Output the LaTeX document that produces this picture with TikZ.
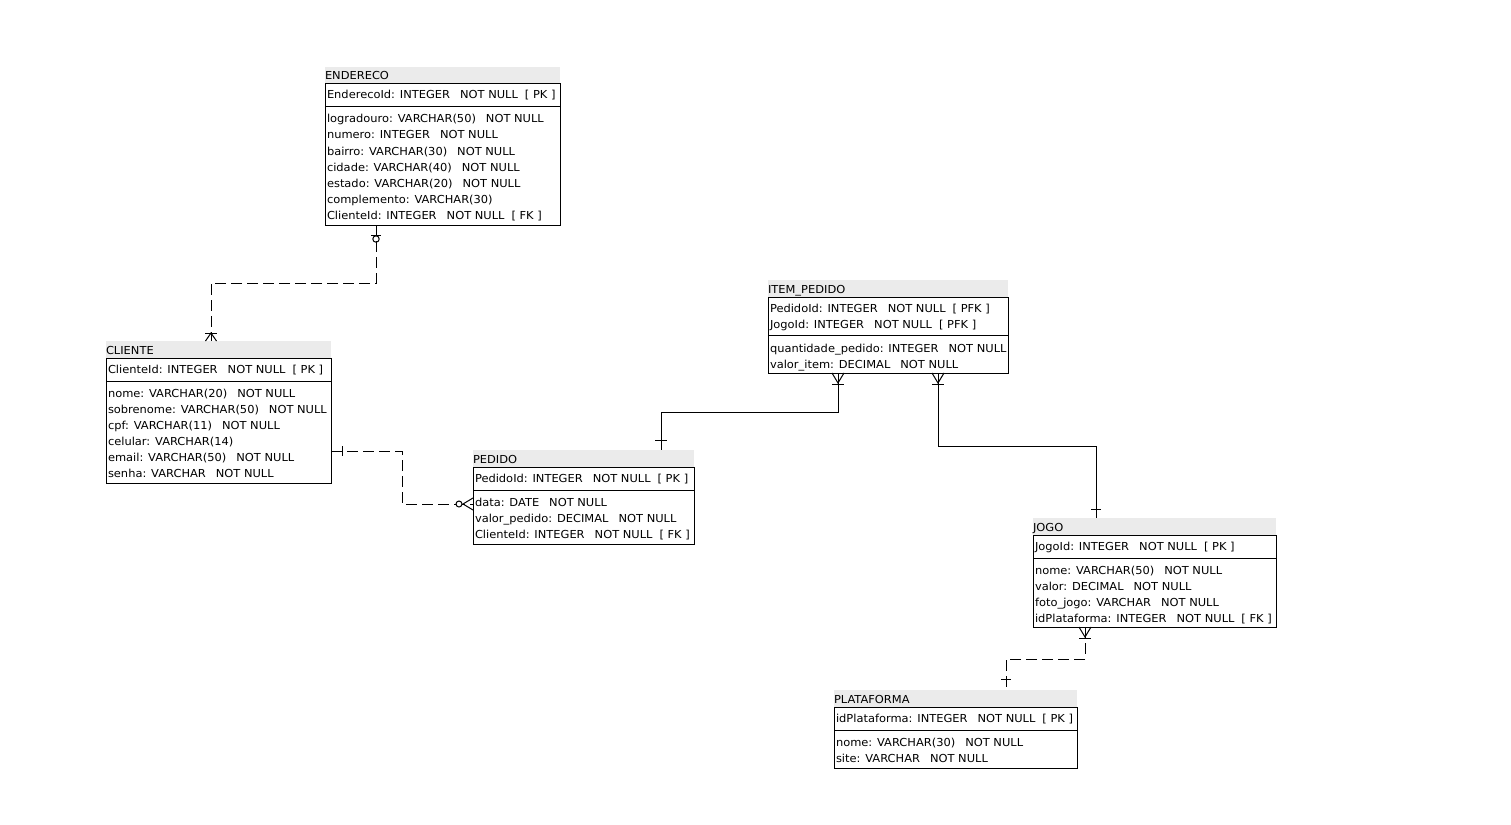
\documentclass[tikz,border=0pt]{standalone}
\usepackage{fontspec}
\newfontfamily\erfont[FakeStretch=1.04]{DejaVu Sans}
\definecolor{bandgray}{HTML}{EBEBEB}
\newcommand{\gq}{\hspace{10pt}}
\newcommand{\gk}{\hspace{7pt}}
\tikzset{
  entbox/.style={draw=black, line width=1pt, anchor=north west, inner sep=0pt, outer sep=0pt},
  entband/.style={fill=bandgray, anchor=north west, inner sep=0pt, outer sep=0pt, minimum height=17pt},
  txt/.style={anchor=base west, inner sep=0pt, outer sep=0pt, font=\erfont\fontsize{11}{12}\selectfont},
  sepline/.style={line width=1pt},
  rel/.style={line width=1pt},
  reldash/.style={line width=1pt, dash pattern=on 11pt off 5pt},
  sym/.style={line width=1pt}
}
\begin{document}
\begin{tikzpicture}[x=1pt,y=-1pt]
\useasboundingbox (0,0) rectangle (1511,824);
\fill[white] (0,0) rectangle (1511,824);

% ---------------- ENDERECO ----------------
\node[entband, minimum width=235pt] (enderecoh) at (325,67) {};
\node[entbox, minimum width=235pt, minimum height=141pt] (endereco) at (325,84) {};
\node[txt] (enderecot) at (325,80) {ENDERECO};
\node[txt] (en0) at (327,99) {EnderecoId: INTEGER\gq NOT NULL\gk[ PK ]};
\draw[sepline] (endereco.west |- 0,107) -- (endereco.east |- 0,107);
\node[txt] (en1) at (327,123) {logradouro: VARCHAR(50)\gq NOT NULL};
\node[txt] (en2) at (327,139) {numero: INTEGER\gq NOT NULL};
\node[txt] (en3) at (327,155) {bairro: VARCHAR(30)\gq NOT NULL};
\node[txt] (en4) at (327,171) {cidade: VARCHAR(40)\gq NOT NULL};
\node[txt] (en5) at (327,187) {estado: VARCHAR(20)\gq NOT NULL};
\node[txt] (en6) at (327,203) {complemento: VARCHAR(30)};
\node[txt] (en7) at (327,219) {ClienteId: INTEGER\gq NOT NULL\gk[ FK ]};

% ---------------- CLIENTE ----------------
\node[entband, minimum width=225pt] (clienteh) at (106,341) {};
\node[entbox, minimum width=225pt, minimum height=125pt] (cliente) at (106,358) {};
\node[txt] (clientet) at (106,354) {CLIENTE};
\node[txt] (cl0) at (108,373) {ClienteId: INTEGER\gq NOT NULL\gk[ PK ]};
\draw[sepline] (cliente.west |- 0,381) -- (cliente.east |- 0,381);
\node[txt] (cl1) at (108,397) {nome: VARCHAR(20)\gq NOT NULL};
\node[txt] (cl2) at (108,413) {sobrenome: VARCHAR(50)\gq NOT NULL};
\node[txt] (cl3) at (108,429) {cpf: VARCHAR(11)\gq NOT NULL};
\node[txt] (cl4) at (108,445) {celular: VARCHAR(14)};
\node[txt] (cl5) at (108,461) {email: VARCHAR(50)\gq NOT NULL};
\node[txt] (cl6) at (108,477) {senha: VARCHAR\gq NOT NULL};

% ---------------- PEDIDO ----------------
\node[entband, minimum width=221pt] (pedidoh) at (473,450) {};
\node[entbox, minimum width=221pt, minimum height=77pt] (pedido) at (473,467) {};
\node[txt] (pedidot) at (473,463) {PEDIDO};
\node[txt] (pe0) at (475,482) {PedidoId: INTEGER\gq NOT NULL\gk[ PK ]};
\draw[sepline] (pedido.west |- 0,490) -- (pedido.east |- 0,490);
\node[txt] (pe1) at (475,506) {data: DATE\gq NOT NULL};
\node[txt] (pe2) at (475,522) {valor\_pedido: DECIMAL\gq NOT NULL};
\node[txt] (pe3) at (475,538) {ClienteId: INTEGER\gq NOT NULL\gk[ FK ]};

% ---------------- ITEM_PEDIDO ----------------
\node[entband, minimum width=240pt] (itemh) at (768,280) {};
\node[entbox, minimum width=240pt, minimum height=76pt] (item) at (768,297) {};
\node[txt] (itemt) at (768,293) {ITEM\_PEDIDO};
\node[txt] (it0) at (770,312) {PedidoId: INTEGER\gq NOT NULL\gk[ PFK ]};
\node[txt] (it1) at (770,328) {JogoId: INTEGER\gq NOT NULL\gk[ PFK ]};
\draw[sepline] (item.west |- 0,335) -- (item.east |- 0,335);
\node[txt] (it2) at (770,352) {quantidade\_pedido: INTEGER\gq NOT NULL};
\node[txt] (it3) at (770,368) {valor\_item: DECIMAL\gq NOT NULL};

% ---------------- JOGO ----------------
\node[entband, minimum width=243pt] (jogoh) at (1033,518) {};
\node[entbox, minimum width=243pt, minimum height=92pt] (jogo) at (1033,535) {};
\node[txt] (jogot) at (1033,531) {JOGO};
\node[txt] (jo0) at (1035,550) {JogoId: INTEGER\gq NOT NULL\gk[ PK ]};
\draw[sepline] (jogo.west |- 0,558) -- (jogo.east |- 0,558);
\node[txt] (jo1) at (1035,574) {nome: VARCHAR(50)\gq NOT NULL};
\node[txt] (jo2) at (1035,590) {valor: DECIMAL\gq NOT NULL};
\node[txt] (jo3) at (1035,606) {foto\_jogo: VARCHAR\gq NOT NULL};
\node[txt] (jo4) at (1035,622) {idPlataforma: INTEGER\gq NOT NULL\gk[ FK ]};

% ---------------- PLATAFORMA ----------------
\node[entband, minimum width=243pt] (platah) at (834,690) {};
\node[entbox, minimum width=243pt, minimum height=61pt] (plata) at (834,707) {};
\node[txt] (platat) at (834,703) {PLATAFORMA};
\node[txt] (pl0) at (836,722) {idPlataforma: INTEGER\gq NOT NULL\gk[ PK ]};
\draw[sepline] (plata.west |- 0,730) -- (plata.east |- 0,730);
\node[txt] (pl1) at (836,746) {nome: VARCHAR(30)\gq NOT NULL};
\node[txt] (pl2) at (836,762) {site: VARCHAR\gq NOT NULL};

% ---------------- Connectors ----------------
% ENDERECO -- CLIENTE (dashed, zero-or-one / one-or-many)
\draw[reldash] (endereco.south -| 376,0) |- (211,283) -- (clienteh.north -| 211,0);
\draw[sym] (371,235) -- (381,235);
\draw[sym] (376,239) circle[radius=3.2pt];
\draw[sym] (205,333) -- (217,333);
\draw[sym] (205.5,341) -- (211,333) -- (216.5,341);

% CLIENTE -- PEDIDO (dashed, one / zero-or-many)
\draw[reldash] (cliente.east |- 0,451) -| (402,504) -- (pedido.west |- 0,504);
\draw[sym] (342,446) -- (342,456);
\draw[fill=white, sym] (459,504) circle[radius=3pt];
\draw[sym] (pedido.west |- 0,498) -- (463,504) -- (pedido.west |- 0,510);

% ITEM_PEDIDO -- PEDIDO (solid)
\draw[rel] (item.south -| 838,0) |- (661,412) -- (pedidoh.north -| 661,0);
\draw[sym] (832,373) -- (838,383) -- (844,373);
\draw[sym] (832,384.5) -- (844,384.5);
\draw[sym] (655,440) -- (667,440);

% ITEM_PEDIDO -- JOGO (solid)
\draw[rel] (item.south -| 938,0) |- (1096,446) -- (jogoh.north -| 1096,0);
\draw[sym] (932,373) -- (938,383) -- (944,373);
\draw[sym] (932,384.5) -- (944,384.5);
\draw[sym] (1091,509) -- (1101,509);

% JOGO -- PLATAFORMA (dashed)
\draw[reldash] (jogo.south -| 1085,0) |- (1006,659) -- (platah.north -| 1006,0);
\draw[sym] (1079,627) -- (1085,637) -- (1091,627);
\draw[sym] (1079,638.5) -- (1091,638.5);
\draw[sym] (1001,679) -- (1011,679);
\end{tikzpicture}
\end{document}
